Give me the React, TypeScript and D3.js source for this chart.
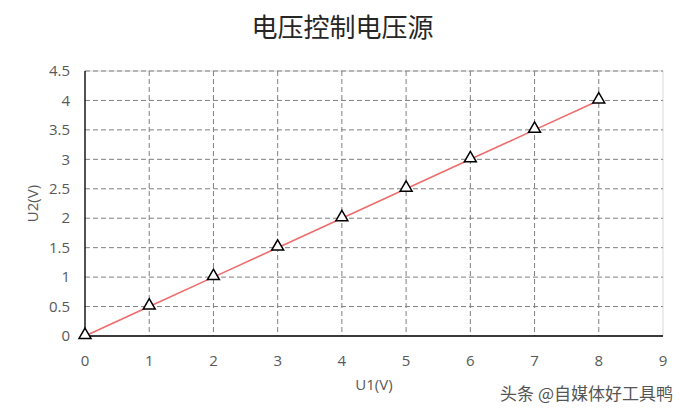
import React from 'react';
import * as d3 from 'd3';

const u1Values = [0, 1, 2, 3, 4, 5, 6, 7, 8];
const u2Values = [0, 0.5, 1, 1.5, 2, 2.5, 3, 3.5, 4];
const xTicks = [0, 1, 2, 3, 4, 5, 6, 7, 8, 9];
const yTicks = [0, 0.5, 1, 1.5, 2, 2.5, 3, 3.5, 4, 4.5];

const title = '电压控制电压源';
const xTitle = 'U1(V)';
const yTitle = 'U2(V)';
const watermark = '头条 @自媒体好工具鸭';

const W = 685;
const H = 414;
const margin = { top: 71, right: 22, bottom: 78, left: 85 };

const App: React.FC = () => {
  const x = d3.scaleLinear().domain([0, 9]).range([margin.left, W - margin.right]);
  const y = d3.scaleLinear().domain([0, 4.5]).range([H - margin.bottom, margin.top]);

  const points = u1Values.map((v, i) => ({ u1: v, u2: u2Values[i] }));
  const line = d3.line<{ u1: number; u2: number }>().x(d => x(d.u1)).y(d => y(d.u2));
  const tri = d3.symbol().type(d3.symbolTriangle).size(62)();

  const font = '"Noto Sans CJK SC", "Open Sans", sans-serif';
  const tickFont = '"Open Sans", "Noto Sans CJK SC", sans-serif';
  const x0 = x(0), x1 = x(9), y0 = y(0), y1 = y(4.5);

  return (
    <svg width={W} height={H} style={{ position: 'absolute', left: 0, top: 0, background: '#fff' }} fontFamily={font}>
      <rect width={W} height={H} fill="#fff" />
      <text x={W / 2} y={37} textAnchor="middle" fontSize={26} fill="#262626">{title}</text>

      {/* plot border */}
      <rect x={x0} y={y1} width={x1 - x0} height={y0 - y1} fill="none" stroke="#d9d9d9" strokeWidth={1} />

      {/* grid */}
      {yTicks.filter(t => t > 0).map(t => (
        <line key={'gy' + t} x1={x0} x2={x1} y1={y(t)} y2={y(t)} stroke="#7f7f7f" strokeDasharray="5,3" strokeWidth={1} />
      ))}
      {xTicks.filter(t => t > 0 && t < 9).map(t => (
        <line key={'gx' + t} x1={x(t)} x2={x(t)} y1={y1} y2={y0} stroke="#7f7f7f" strokeDasharray="5,3" strokeWidth={1} />
      ))}

      {/* axes */}
      <line x1={x0} x2={x0} y1={y1} y2={y0} stroke="#000" strokeWidth={1.3} />
      <line x1={x0} x2={x1} y1={y0} y2={y0} stroke="#000" strokeWidth={1.3} />

      <g fontFamily={tickFont} fontSize={15} fill="#595959">
        {yTicks.map(t => (
          <text key={'ly' + t} x={x0 - 15} y={y(t)} dy="0.35em" textAnchor="end">{t}</text>
        ))}
        {xTicks.map(t => (
          <text key={'lx' + t} x={x(t)} y={y0 + 25} dy="0.35em" textAnchor="middle">{t}</text>
        ))}
        <text x={(x0 + x1) / 2} y={390} textAnchor="middle">{xTitle}</text>
        <text transform={`translate(38,${(y0 + y1) / 2}) rotate(-90)`} textAnchor="middle">{yTitle}</text>
      </g>

      <path d={line(points) || ''} fill="none" stroke="#f06b6b" strokeWidth={1.6} />
      {points.map((p, i) => (
        <path key={'m' + i} d={tri || ''} transform={`translate(${x(p.u1)},${y(p.u2) - 1})`} fill="#fff" stroke="#000" strokeWidth={1.5} />
      ))}

      <text x={673} y={400} textAnchor="end" fontSize={17} fill="#555" stroke="#fff" strokeWidth={3} paintOrder="stroke">{watermark}</text>
    </svg>
  );
};

export default App;
